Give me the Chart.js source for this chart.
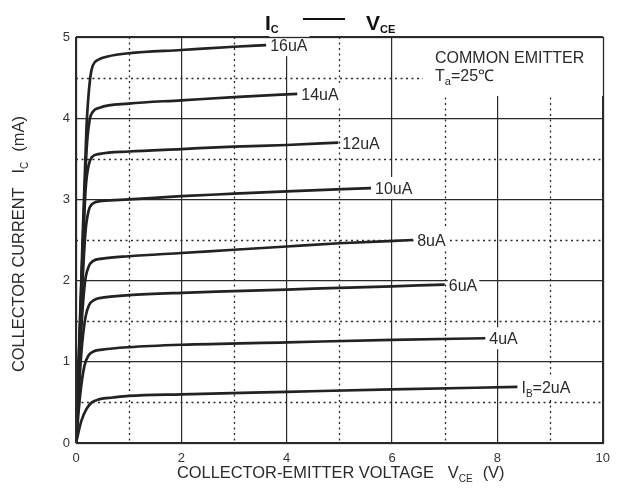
<!DOCTYPE html>
<html>
<head>
<meta charset="utf-8">
<script src="https://cdn.jsdelivr.net/npm/chart.js@4/dist/chart.umd.min.js"></script>
<style>
    body { margin: 0; background: #fff; }
    canvas { display: block; }
</style>
</head>
<body>
<canvas id="chart" width="618" height="497"></canvas>
<script>
// Base current of each curve (uA)
const baseCurrents = [2, 4, 6, 8, 10, 12, 14, 16];
const curveLabels = ['=2uA', '4uA', '6uA', '8uA', '10uA', '12uA', '14uA', '16uA'];

// Collector-emitter voltage (V) points of each curve
const vce2 = [0, 0.1, 0.2, 0.3, 0.45, 0.7, 1, 2, 4, 6, 8.38];
const vce4 = [0, 0.08, 0.16, 0.24, 0.34, 0.5, 1, 2, 4, 6, 7.77];
const vce6 = [0, 0.1, 0.18, 0.25, 0.34, 0.5, 1, 2, 3, 4, 5, 6, 7.0];
const vce8 = [0, 0.1, 0.17, 0.24, 0.32, 0.5, 1, 2, 3, 4, 5, 6.4];
const vce10 = [0, 0.1, 0.18, 0.24, 0.32, 0.5, 1, 2, 3, 4, 5.6];
const vce12 = [0, 0.1, 0.18, 0.24, 0.3, 0.45, 1, 2, 3, 4, 4.98];
const vce14 = [0, 0.1, 0.2, 0.26, 0.32, 0.45, 1, 2, 3, 4.2];
const vce16 = [0, 0.1, 0.2, 0.27, 0.32, 0.42, 0.6, 1, 2, 3, 3.61];

// Collector current (mA) at those points
const ic2 = [0, 0.27, 0.42, 0.50, 0.54, 0.56, 0.58, 0.60, 0.63, 0.66, 0.69];
const ic4 = [0, 0.6, 0.95, 1.08, 1.13, 1.15, 1.18, 1.21, 1.24, 1.27, 1.29];
const ic6 = [0, 1.1, 1.55, 1.70, 1.76, 1.79, 1.82, 1.85, 1.87, 1.89, 1.91, 1.93, 1.95];
const ic8 = [0, 1.4, 1.98, 2.17, 2.24, 2.27, 2.30, 2.34, 2.38, 2.42, 2.46, 2.50];
const ic10 = [0, 1.65, 2.6, 2.86, 2.95, 2.98, 3.00, 3.04, 3.07, 3.10, 3.14];
const ic12 = [0, 1.8, 3.1, 3.42, 3.52, 3.56, 3.59, 3.62, 3.65, 3.67, 3.70];
const ic14 = [0, 1.9, 3.6, 3.98, 4.08, 4.13, 4.18, 4.22, 4.26, 4.30];
const ic16 = [0, 2.0, 3.9, 4.5, 4.65, 4.72, 4.76, 4.80, 4.84, 4.88, 4.90];

const vceSets = [vce2, vce4, vce6, vce8, vce10, vce12, vce14, vce16];
const icSets = [ic2, ic4, ic6, ic8, ic10, ic12, ic14, ic16];

const xTicks = [0, 2, 4, 6, 8, 10];
const yTicks = [0, 1, 2, 3, 4, 5];

const FONT = '"Liberation Sans", Arial, sans-serif';
const INK = '#2a2a2a';

function toPoints(xs, ys) {
    let pts = [];
    for (let i = 0; i < xs.length; i++) {
        pts.push({x: xs[i], y: ys[i]});
    }
    return pts;
}

// Draw a run of text pieces, some of them subscripts
function drawRich(ctx, x, y, parts) {
    let cx = x;
    for (let p of parts) {
        ctx.font = (p.bold ? 'bold ' : '') + p.size + 'px ' + FONT;
        ctx.fillText(p.t, cx, y + (p.dy || 0));
        cx += ctx.measureText(p.t).width + (p.gap || 0);
    }
    return cx;
}

function richWidth(ctx, parts) {
    let w = 0;
    for (let p of parts) {
        ctx.font = (p.bold ? 'bold ' : '') + p.size + 'px ' + FONT;
        w += ctx.measureText(p.t).width + (p.gap || 0);
    }
    return w;
}

const decorPlugin = {
    id: 'decor',
    beforeDatasetsDraw(chart) {
        const ctx = chart.ctx;
        const xs = chart.scales.x, ys = chart.scales.y;
        const a = chart.chartArea;
        ctx.save();
        ctx.strokeStyle = INK;
        ctx.lineWidth = 1.3;
        ctx.setLineDash([2, 3.5]);
        // dotted lines at the odd volts and the half milliamps
        for (let v = 1; v < 10; v += 2) {
            let px = Math.round(xs.getPixelForValue(v)) + 0.5;
            ctx.beginPath();
            ctx.moveTo(px, a.top);
            ctx.lineTo(px, a.bottom);
            ctx.stroke();
        }
        for (let m = 0.5; m < 5; m += 1) {
            let py = Math.round(ys.getPixelForValue(m)) + 0.5;
            ctx.beginPath();
            ctx.moveTo(a.left, py);
            ctx.lineTo(a.right, py);
            ctx.stroke();
        }
        ctx.restore();
    },
    afterDatasetsDraw(chart) {
        const ctx = chart.ctx;
        const xs = chart.scales.x, ys = chart.scales.y;
        const a = chart.chartArea;
        ctx.save();
        ctx.textBaseline = 'alphabetic';
        ctx.fillStyle = INK;

        // curve labels, on white so the grid stops behind them
        for (let k = 0; k < baseCurrents.length; k++) {
            let xsArr = vceSets[k], ysArr = icSets[k];
            let n = xsArr.length - 1;
            let ex = xs.getPixelForValue(xsArr[n]);
            let ey = ys.getPixelForValue(ysArr[n]);
            let parts;
            if (k === 0) {
                parts = [{t: 'I', size: 16}, {t: 'B', size: 10, dy: 4}, {t: curveLabels[k], size: 16}];
            } else {
                parts = [{t: curveLabels[k], size: 16}];
            }
            let w = richWidth(ctx, parts);
            let lx = ex + 4;
            ctx.fillStyle = '#fff';
            ctx.fillRect(lx - 1, ey - 11, w + 3, 22);
            ctx.fillStyle = INK;
            drawRich(ctx, lx, ey + 6, parts);
        }

        // COMMON EMITTER box
        ctx.fillStyle = '#fff';
        ctx.fillRect(423, a.top + 1, 180, 58);
        ctx.fillStyle = INK;
        ctx.font = '16px ' + FONT;
        ctx.fillText('COMMON EMITTER', 435, 63);
        drawRich(ctx, 435, 81, [{t: 'T', size: 16}, {t: 'a', size: 11, dy: 4}, {t: '=25\u2103', size: 16}]);

        // frame
        ctx.strokeStyle = INK;
        ctx.lineWidth = 1.3;
        ctx.strokeRect(Math.round(a.left) + 0.5, Math.round(a.top) + 0.5,
            Math.round(a.right - a.left), Math.round(a.bottom - a.top));

        // title
        ctx.fillStyle = '#111';
        drawRich(ctx, 265, 30, [{t: 'I', size: 21, bold: true}, {t: 'C', size: 11, bold: true, dy: 3}]);
        ctx.fillRect(303, 18, 42, 2);
        drawRich(ctx, 366, 30, [{t: 'V', size: 21, bold: true}, {t: 'CE', size: 11, bold: true, dy: 3}]);

        // x axis title
        ctx.fillStyle = INK;
        drawRich(ctx, 177, 478, [
            {t: 'COLLECTOR-EMITTER VOLTAGE', size: 16.4, gap: 14},
            {t: 'V', size: 16.4}, {t: 'CE', size: 10, dy: 4, gap: 10},
            {t: '(V)', size: 16.4}
        ]);

        // y axis title, rotated
        ctx.save();
        ctx.translate(24, 372);
        ctx.rotate(-Math.PI / 2);
        drawRich(ctx, 0, 0, [
            {t: 'COLLECTOR CURRENT', size: 16.4, gap: 14},
            {t: 'I', size: 16.4}, {t: 'C', size: 10, dy: 4, gap: 10},
            {t: '(mA)', size: 16.4}
        ]);
        ctx.restore();

        ctx.restore();
    }
};

let datasets = [];
for (let k = 0; k < baseCurrents.length; k++) {
    datasets.push({
        label: 'IB=' + baseCurrents[k] + 'uA',
        data: toPoints(vceSets[k], icSets[k]),
        showLine: true,
        borderColor: '#222',
        borderWidth: 2.7,
        pointRadius: 0,
        cubicInterpolationMode: 'monotone',
        fill: false
    });
}

let chart = new Chart(document.getElementById('chart').getContext('2d'), {
    type: 'scatter',
    data: {datasets: datasets},
    options: {
        responsive: false,
        animation: false,
        layout: {padding: {top: 37, right: 10, left: 0, bottom: 0}},
        plugins: {legend: {display: false}, tooltip: {enabled: false}},
        scales: {
            x: {
                type: 'linear',
                min: 0,
                max: 10,
                afterFit: function(s) { s.height = 54; },
                afterBuildTicks: function(s) { s.ticks = xTicks.map(v => ({value: v})); },
                ticks: {
                    autoSkip: false,
                    maxRotation: 0,
                    padding: 8,
                    color: '#333',
                    font: {family: FONT, size: 13}
                },
                grid: {color: INK, lineWidth: 1.2, drawTicks: false},
                border: {display: false}
            },
            y: {
                min: 0,
                max: 5,
                afterFit: function(s) { s.width = 76; },
                afterBuildTicks: function(s) { s.ticks = yTicks.map(v => ({value: v})); },
                ticks: {
                    autoSkip: false,
                    padding: 6,
                    color: '#333',
                    font: {family: FONT, size: 13}
                },
                grid: {color: INK, lineWidth: 1.2, drawTicks: false},
                border: {display: false}
            }
        }
    },
    plugins: [decorPlugin]
});
</script>
</body>
</html>
